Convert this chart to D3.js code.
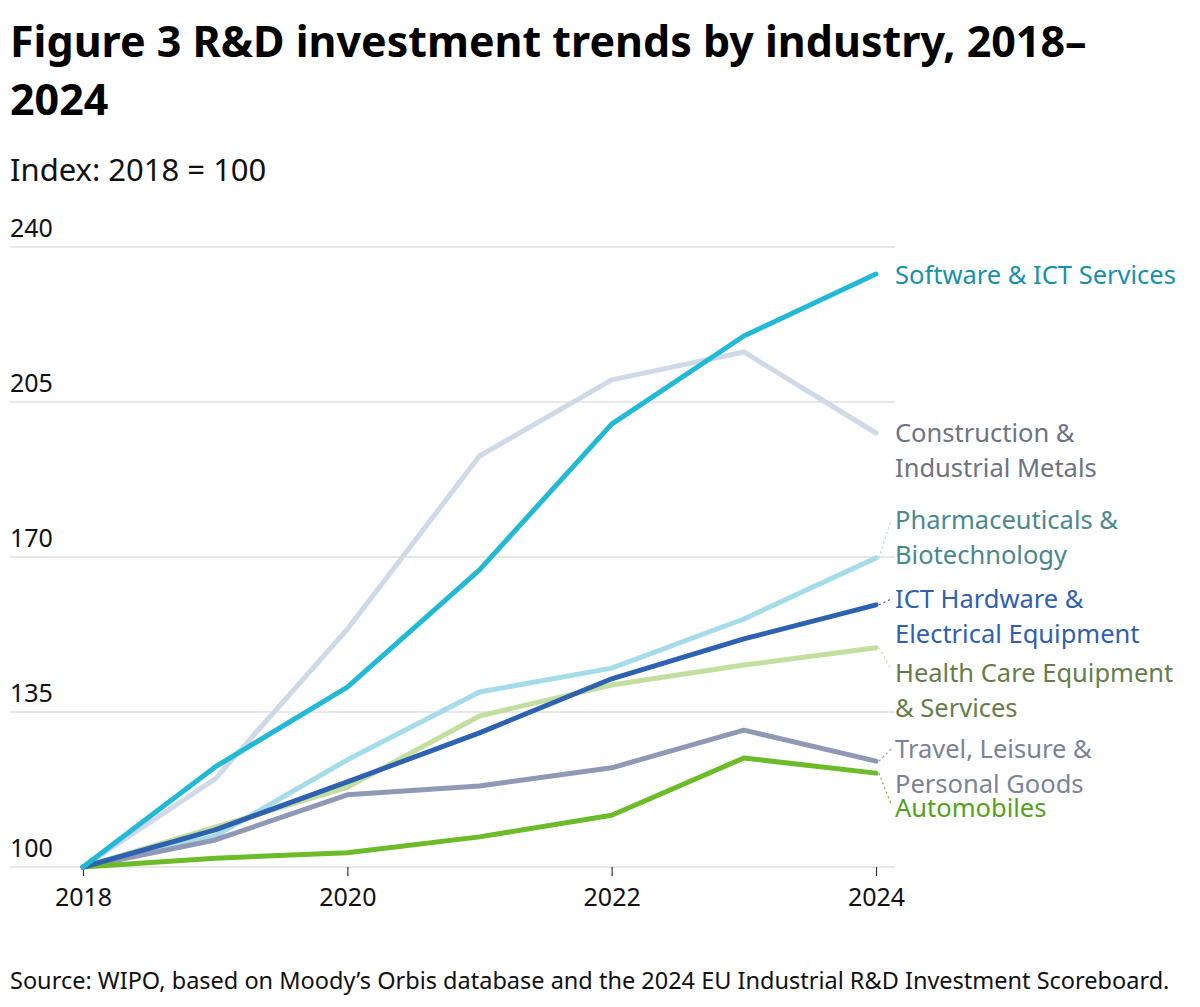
<!DOCTYPE html>
<html>
<head>
<meta charset="utf-8">
<script src="https://cdn.jsdelivr.net/npm/d3@7"></script>
<style>
  body { margin: 0; background: #fff; font-family: "Noto Sans", "Open Sans", sans-serif; }
</style>
</head>
<body>
<script>
// chart data
var years = [2018, 2019, 2020, 2021, 2022, 2023, 2024];
var yTicks = [100, 135, 170, 205, 240];
var xTicks = [2018, 2020, 2022, 2024];

var software     = [100, 122.6, 140.6, 167.1, 200.0, 219.9, 233.9];
var construction = [100, 119.9, 153.7, 192.8, 210.0, 216.3, 198.0];
var pharma       = [100, 107.0, 124.2, 139.5, 144.9, 156.0, 169.8];
var ictHardware  = [100, 108.4, 119.2, 130.3, 142.5, 151.5, 159.2];
var healthCare   = [100, 109.0, 118.0, 134.1, 141.1, 145.6, 149.5];
var travel       = [100, 106.1, 116.3, 118.3, 122.4, 130.9, 123.9];
var automobiles  = [100, 102.0, 103.2, 106.8, 111.7, 124.6, 121.2];

// drawing order: first is at the back
var series = [
    { name: ["Construction &", "Industrial Metals"], values: construction, line: "#cfd9e8", text: "#6d7382", labelY: 433 },
    { name: ["Pharmaceuticals &", "Biotechnology"], values: pharma, line: "#a4dde9", text: "#4a8890", labelY: 520 },
    { name: ["Health Care Equipment", "& Services"], values: healthCare, line: "#c3df9f", text: "#677c4b", labelY: 673 },
    { name: ["Travel, Leisure &", "Personal Goods"], values: travel, line: "#8f99b6", text: "#7a8298", labelY: 749 },
    { name: ["Automobiles"], values: automobiles, line: "#6cbb28", text: "#56a01c", labelY: 808 },
    { name: ["ICT Hardware &", "Electrical Equipment"], values: ictHardware, line: "#2d62b0", text: "#2f5fae", labelY: 599 },
    { name: ["Software & ICT Services"], values: software, line: "#22b9d5", text: "#1790aa", labelY: 275 }
];

var W = 1200, H = 1007;
var svg = d3.select("body").append("svg").attr("width", W).attr("height", H);

var x = d3.scaleLinear().domain([2018, 2024]).range([83, 876]);
var y = d3.scaleLinear().domain([100, 240]).range([867, 247]);

// title + subtitle
svg.append("text").attr("x", 10).attr("y", 57)
    .style("font-size", "43px").style("font-weight", "bold").attr("fill", "#000")
    .text("Figure 3 R&D investment trends by industry, 2018–");
svg.append("text").attr("x", 10).attr("y", 115)
    .style("font-size", "43px").style("font-weight", "bold").attr("fill", "#000")
    .text("2024");
svg.append("text").attr("x", 10).attr("y", 181)
    .style("font-size", "31px").attr("fill", "#111")
    .text("Index: 2018 = 100");

// grid lines and y labels
var grid = svg.append("g");
grid.selectAll("line").data(yTicks).enter().append("line")
    .attr("x1", 10).attr("x2", 895)
    .attr("y1", function(d) { return y(d); })
    .attr("y2", function(d) { return y(d); })
    .attr("stroke", "#e1e1e1").attr("stroke-width", 1.5);
grid.selectAll("text").data(yTicks).enter().append("text")
    .attr("x", 10).attr("y", function(d) { return y(d) - 10; })
    .style("font-size", "25px").attr("fill", "#111")
    .text(function(d) { return d; });

// x axis
var xAxis = d3.axisBottom(x).tickValues(xTicks).tickFormat(d3.format("d")).tickSize(9).tickPadding(12);
var gx = svg.append("g").attr("transform", "translate(0," + y(100) + ")").call(xAxis);
gx.select(".domain").remove();
gx.selectAll(".tick line").attr("stroke", "#333").attr("stroke-width", 1.2);
gx.selectAll(".tick text").style("font-size", "25px").style("font-family", "'Noto Sans', sans-serif").attr("fill", "#111");

// lines
var line = d3.line()
    .x(function(d, i) { return x(years[i]); })
    .y(function(d) { return y(d); });

svg.append("g").selectAll("path").data(series).enter().append("path")
    .attr("d", function(s) { return line(s.values); })
    .attr("fill", "none")
    .attr("stroke", function(s) { return s.line; })
    .attr("stroke-width", 5)
    .attr("stroke-linejoin", "round")
    .attr("stroke-linecap", "round");

// labels with leader lines
var lx = 895;
var labels = svg.append("g");
series.forEach(function(s) {
    var endY = y(s.values[s.values.length - 1]);
    if (Math.abs(endY - s.labelY) > 4) {
        labels.append("path")
            .attr("d", "M" + (x(2024) + 3) + "," + endY + " L" + (lx - 4) + "," + (s.labelY + (s.labelY < endY ? 0 : -4)))
            .attr("stroke", s.line).attr("stroke-width", 1.2)
            .attr("stroke-dasharray", "2,3").attr("fill", "none");
    }
    var t = labels.append("text").attr("x", lx).attr("y", s.labelY + 9)
        .style("font-size", "25.5px").attr("fill", s.text);
    s.name.forEach(function(n, i) {
        t.append("tspan").attr("x", lx).attr("dy", i === 0 ? 0 : 35).text(n);
    });
});

// source note
svg.append("text").attr("x", 10).attr("y", 989)
    .style("font-size", "23.5px").attr("fill", "#111")
    .text("Source: WIPO, based on Moody’s Orbis database and the 2024 EU Industrial R&D Investment Scoreboard.");
</script>
</body>
</html>
